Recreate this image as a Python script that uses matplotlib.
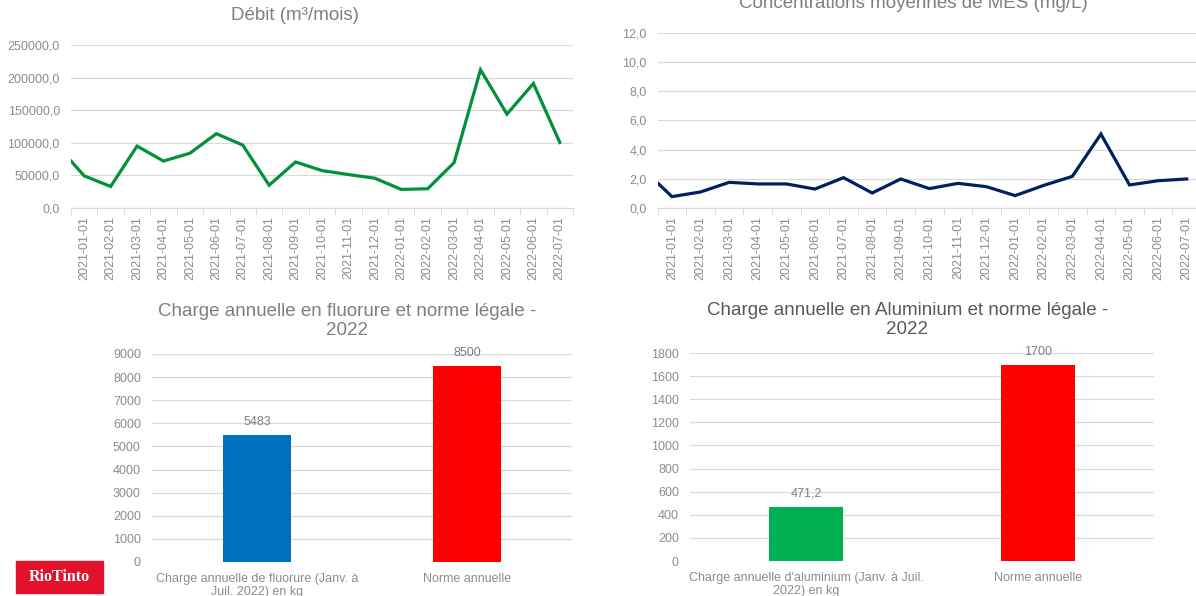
import numpy as np
import matplotlib
matplotlib.use("Agg")
import matplotlib.pyplot as plt
from matplotlib.patches import Rectangle
from matplotlib.ticker import FuncFormatter, MultipleLocator, FixedLocator

plt.rcParams['font.family'] = ['Liberation Sans', 'DejaVu Sans']

# --- données ---
mois = ['2021-01-01', '2021-02-01', '2021-03-01', '2021-04-01', '2021-05-01',
        '2021-06-01', '2021-07-01', '2021-08-01', '2021-09-01', '2021-10-01',
        '2021-11-01', '2021-12-01', '2022-01-01', '2022-02-01', '2022-03-01',
        '2022-04-01', '2022-05-01', '2022-06-01', '2022-07-01']

# mois précédent (2020-12), coupé par le bord gauche du graphique
debit_prec = 94700
debit = [49300, 33000, 95000, 72000, 84000, 114000, 96500, 35000, 70600, 57400,
         51300, 45700, 28500, 29500, 69600, 212000, 144000, 191000, 100600]

mes_prec = 2.64
mes = [0.78, 1.10, 1.76, 1.65, 1.65, 1.30, 2.08, 1.03, 1.99, 1.33,
       1.69, 1.46, 0.85, 1.55, 2.17, 5.07, 1.58, 1.87, 1.99]

cat_fluor = ['Charge annuelle de fluorure (Janv. à\nJuil. 2022) en kg', 'Norme annuelle']
val_fluor = [5483, 8500]
cat_alu = ["Charge annuelle d'aluminium (Janv. à Juil.\n2022) en kg", 'Norme annuelle']
val_alu = [471.2, 1700]

W, H = 1196, 596
TICK = '#8c8c8c'
GRILLE = '#d9d9d9'

fig = plt.figure(figsize=(W / 100, H / 100), dpi=100)
fig.patch.set_facecolor('white')


def axes_px(l, t, r, b):
    return fig.add_axes([l / W, 1 - b / H, (r - l) / W, (b - t) / H])


def virgule(dec):
    return FuncFormatter(lambda v, p: f"{v:.{dec}f}".replace('.', ','))


def style_base(ax):
    for s in ['top', 'right', 'left']:
        ax.spines[s].set_visible(False)
    ax.spines['bottom'].set_color(GRILLE)
    ax.grid(axis='y', color=GRILLE, lw=0.9)
    ax.set_axisbelow(True)
    ax.tick_params(axis='y', length=0, labelsize=9, labelcolor=TICK, pad=8)


def graphe_ligne(ax, prec, vals, couleur, ymax, pas, titre, tx):
    x = np.arange(-1, len(vals))
    ax.plot(x, [prec] + vals, color=couleur, lw=2.3, solid_joinstyle='miter')
    ax.set_xlim(-0.5, len(vals) - 0.5)
    ax.set_ylim(0, ymax)
    ax.yaxis.set_major_locator(MultipleLocator(pas))
    ax.yaxis.set_major_formatter(virgule(1))
    ax.set_xticks(np.arange(len(vals)))
    ax.set_xticklabels(mois, rotation=90, fontsize=9, color=TICK)
    ax.tick_params(axis='x', which='major', length=0, pad=6)
    ax.xaxis.set_minor_locator(FixedLocator(np.arange(-0.5, len(vals), 1)))
    ax.tick_params(axis='x', which='minor', length=5, color=GRILLE)
    style_base(ax)
    ax.set_title(titre, fontsize=13.5, color='#7f7f7f', pad=18, x=tx)


def graphe_barres(ax, cats, vals, couleurs, ymax, pas, etiquettes, titre, tx, tcol):
    x = np.arange(len(vals))
    ax.bar(x, vals, width=0.32, color=couleurs)
    ax.set_xlim(-0.5, len(vals) - 0.5)
    ax.set_ylim(0, ymax)
    ax.yaxis.set_major_locator(MultipleLocator(pas))
    ax.set_xticks(x)
    ax.set_xticklabels(cats, fontsize=9, color=TICK, linespacing=1.05)
    ax.tick_params(axis='x', length=0, pad=8)
    style_base(ax)
    ax.spines['bottom'].set_visible(False)
    for xi, v, t in zip(x, vals, etiquettes):
        ax.annotate(t, (xi, v), xytext=(0, 5), textcoords='offset points',
                    ha='center', va='bottom', fontsize=9, color='#7f7f7f')
    ax.set_title(titre, fontsize=13.5, color=tcol, pad=14, linespacing=1.1, x=tx)


ax1 = axes_px(71, 45, 573, 208)
graphe_ligne(ax1, debit_prec, debit, '#00913a', 250000, 50000, 'Débit (m³/mois)', 0.446)

ax2 = axes_px(657.7, 33, 1201, 208)
graphe_ligne(ax2, mes_prec, mes, '#002060', 12, 2,
             'Concentrations moyennes de MES (mg/L)', 0.47)

ax3 = axes_px(152, 354, 572, 562)
graphe_barres(ax3, cat_fluor, val_fluor, ['#0070c0', '#ff0000'], 9000, 1000,
              ['5483', '8500'],
              'Charge annuelle en fluorure et norme légale -\n2022', 0.464, '#7f7f7f')

ax4 = axes_px(690, 353, 1154, 561)
graphe_barres(ax4, cat_alu, val_alu, ['#00b050', '#ff0000'], 1800, 200,
              ['471,2', '1700'],
              'Charge annuelle en Aluminium et norme légale -\n2022', 0.468, '#595959')

# logo Rio Tinto
fig.patches.append(Rectangle((16 / W, 1 - 593 / H), 87 / W, 32 / H,
                             transform=fig.transFigure, color='#e4112a', zorder=5))
fig.text(59.5 / W, 1 - 577 / H, 'RioTinto', color='white', fontsize=11.5,
         fontweight='bold', family='Liberation Serif', ha='center', va='center', zorder=6)

fig.savefig('out.png', dpi=100)
